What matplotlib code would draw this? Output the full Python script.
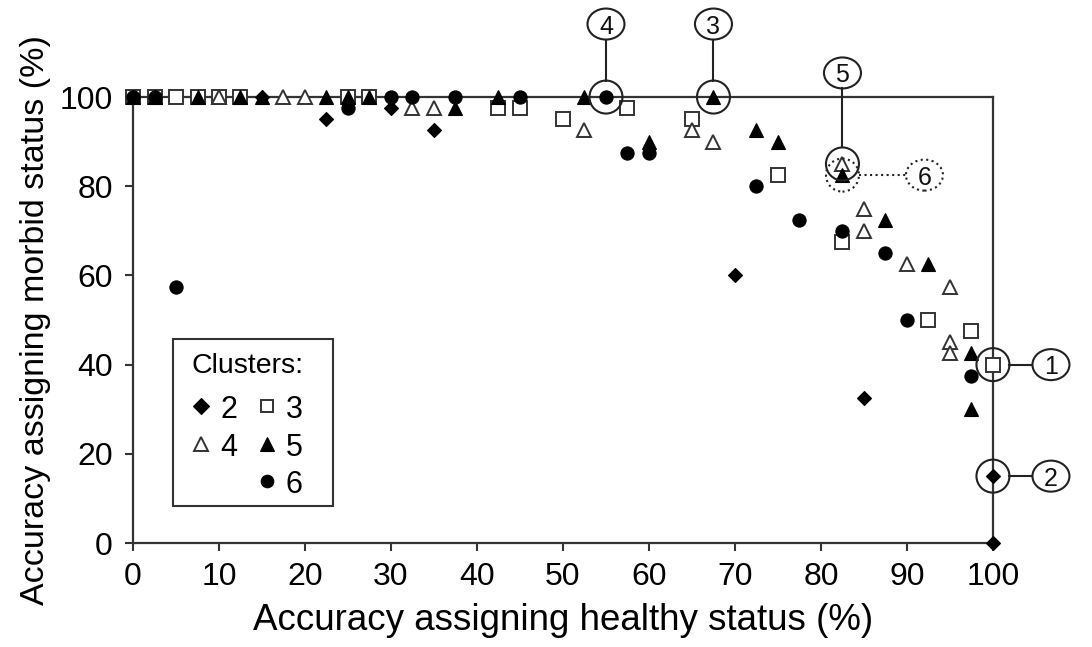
import matplotlib
matplotlib.use("Agg")
import matplotlib.pyplot as plt
import matplotlib.transforms as mtransforms
from matplotlib.patches import Ellipse, Rectangle
from matplotlib.lines import Line2D

plt.rcParams['font.family'] = ['Liberation Sans', 'DejaVu Sans']

# ---- data (healthy accuracy %, morbid accuracy %) ----
c2_x = [0, 2.5, 5, 12.5, 15, 22.5, 25, 30, 35, 70, 85, 100, 100]
c2_y = [100, 100, 100, 100, 100, 95, 100, 97.5, 92.5, 60, 32.5, 15, 0]

c3_x = [0, 2.5, 5, 7.5, 10, 12.5, 25, 27.5, 42.5, 45, 50, 57.5, 65, 75, 82.5, 92.5, 97.5, 100]
c3_y = [100, 100, 100, 100, 100, 100, 100, 100, 97.5, 97.5, 95, 97.5, 95, 82.5, 67.5, 50, 47.5, 40]

c4_x = [10, 17.5, 20, 32.5, 35, 52.5, 65, 67.5, 82.5, 85, 85, 90, 95, 95, 95]
c4_y = [100, 100, 100, 97.5, 97.5, 92.5, 92.5, 90, 85, 75, 70, 62.5, 57.5, 45, 42.5]

c5_x = [0, 2.5, 7.5, 12.5, 15, 22.5, 25, 27.5, 37.5, 42.5, 52.5, 60, 67.5, 72.5, 75, 82.5, 87.5, 92.5, 97.5, 97.5]
c5_y = [100, 100, 100, 100, 100, 100, 100, 100, 97.5, 100, 100, 90, 100, 92.5, 90, 82.5, 72.5, 62.5, 42.5, 30]

c6_x = [0, 2.5, 5, 25, 30, 32.5, 37.5, 45, 55, 57.5, 60, 72.5, 77.5, 82.5, 87.5, 90, 97.5]
c6_y = [100, 100, 57.5, 97.5, 100, 100, 100, 100, 100, 87.5, 87.5, 80, 72.5, 70, 65, 50, 37.5]

cluster_labels = ['2', '3', '4', '5', '6']

x_ticks = [0, 10, 20, 30, 40, 50, 60, 70, 80, 90, 100]
y_ticks = [0, 20, 40, 60, 80, 100]

# annotated points
ann_labels = ['4', '3', '5', '6', '1', '2']
ann_x = [55, 67.5, 82.5, 82.5, 100, 100]
ann_y = [100, 100, 85, 82.5, 40, 15]

# ---- figure ----
fig = plt.figure(figsize=(10.92, 6.47), dpi=100)
ax = fig.add_axes([0.1218, 0.1607, 0.9093 - 0.1218, 0.850 - 0.1607])

spine_c = '#333333'
for s in ax.spines.values():
    s.set_color(spine_c)
    s.set_linewidth(1.6)

ax.set_xlim(0, 100)
ax.set_ylim(0, 100)
ax.set_xticks(x_ticks)
ax.set_yticks(y_ticks)
ax.tick_params(direction='out', length=5.5, width=1.5, color=spine_c,
               labelsize=23)
ax.tick_params(axis='x', pad=8)
ax.tick_params(axis='y', pad=9)

ax.set_xlabel('Accuracy assigning healthy status (%)', fontsize=26.5, labelpad=8)
ax.set_ylabel('Accuracy assigning morbid status (%)', fontsize=24.5, labelpad=6)

styles = {
    '2': dict(marker='D', ms=7.5, mfc='black', mec='black', mew=0.8),
    '3': dict(marker='s', ms=9.5, mfc='white', mec='#333333', mew=1.4),
    '4': dict(marker='^', ms=10, mfc='white', mec='#333333', mew=1.4),
    '5': dict(marker='^', ms=10, mfc='black', mec='black', mew=0.8),
    '6': dict(marker='o', ms=9.5, mfc='black', mec='black', mew=0.8),
}
kw = dict(linestyle='none', clip_on=False, zorder=5)
for lab, xs, ys in zip(cluster_labels, [c2_x, c3_x, c4_x, c5_x, c6_x],
                       [c2_y, c3_y, c4_y, c5_y, c6_y]):
    ax.plot(xs, ys, **styles[lab], **kw)

# ---- annotations (pixel offsets, converted to inches) ----
def T(x, y):
    return fig.dpi_scale_trans + mtransforms.ScaledTranslation(x, y, ax.transData)

offsets = {'4': (0, 73), '3': (0, 73), '5': (0, 91), '6': (82, 0),
           '1': (58, 0), '2': (58, 0)}
mr = 16.5 / 100   # marker circle radius (in)
lw_, lh_ = 37 / 100, 31 / 100   # label ellipse

for lab, x, y in zip(ann_labels, ann_x, ann_y):
    dx, dy = offsets[lab]
    dx /= 100; dy /= 100
    ls = ':' if lab == '6' else '-'
    col = '#222222'
    tr = T(x, y)
    ax.add_patch(Ellipse((0, 0), 2 * mr, 2 * mr, transform=tr, fill=False,
                         lw=1.5, ls=ls, ec=col, clip_on=False, zorder=6))
    ax.add_patch(Ellipse((dx, dy), lw_, lh_, transform=tr, fill=False,
                         lw=1.5, ls=ls, ec=col, clip_on=False, zorder=6))
    ax.text(dx, dy, lab, transform=tr, ha='center', va='center_baseline',
            fontsize=18, color='#111111', zorder=7)
    if dx == 0:
        xs, ys = [0, 0], [mr, dy - lh_ / 2]
    else:
        xs, ys = [mr, dx - lw_ / 2], [0, 0]
    ax.add_line(Line2D(xs, ys, transform=tr, color=col, lw=1.5, ls=ls,
                       clip_on=False, zorder=6))

# ---- legend (drawn as a key box in axes fraction) ----
ta = ax.transAxes
ax.add_patch(Rectangle((0.0465, 0.083), 0.2326 - 0.0465, 0.4574 - 0.083,
                       transform=ta, fill=True, fc='white', ec='#333333',
                       lw=1.5, zorder=8))
ax.text(0.0686, 0.4036, 'Clusters:', transform=ta, ha='left',
        va='center_baseline', fontsize=20.5, zorder=9)
leg_pos = {'2': (0.0791, 0.3072), '3': (0.1558, 0.3072),
           '4': (0.0791, 0.222), '5': (0.1558, 0.222), '6': (0.1558, 0.139)}
leg_ms = {'2': 8, '3': 8.5, '4': 9.5, '5': 9.5, '6': 9}
for lab in cluster_labels:
    mx, my = leg_pos[lab]
    st = dict(styles[lab])
    st['ms'] = leg_ms[lab]
    ax.plot([mx], [my], transform=ta, linestyle='none', zorder=9,
            clip_on=False, **st)
    ax.text(mx + 0.0221, my, lab, transform=ta, ha='left',
            va='center_baseline', fontsize=22, zorder=9)

fig.savefig('out.png', dpi=100)
